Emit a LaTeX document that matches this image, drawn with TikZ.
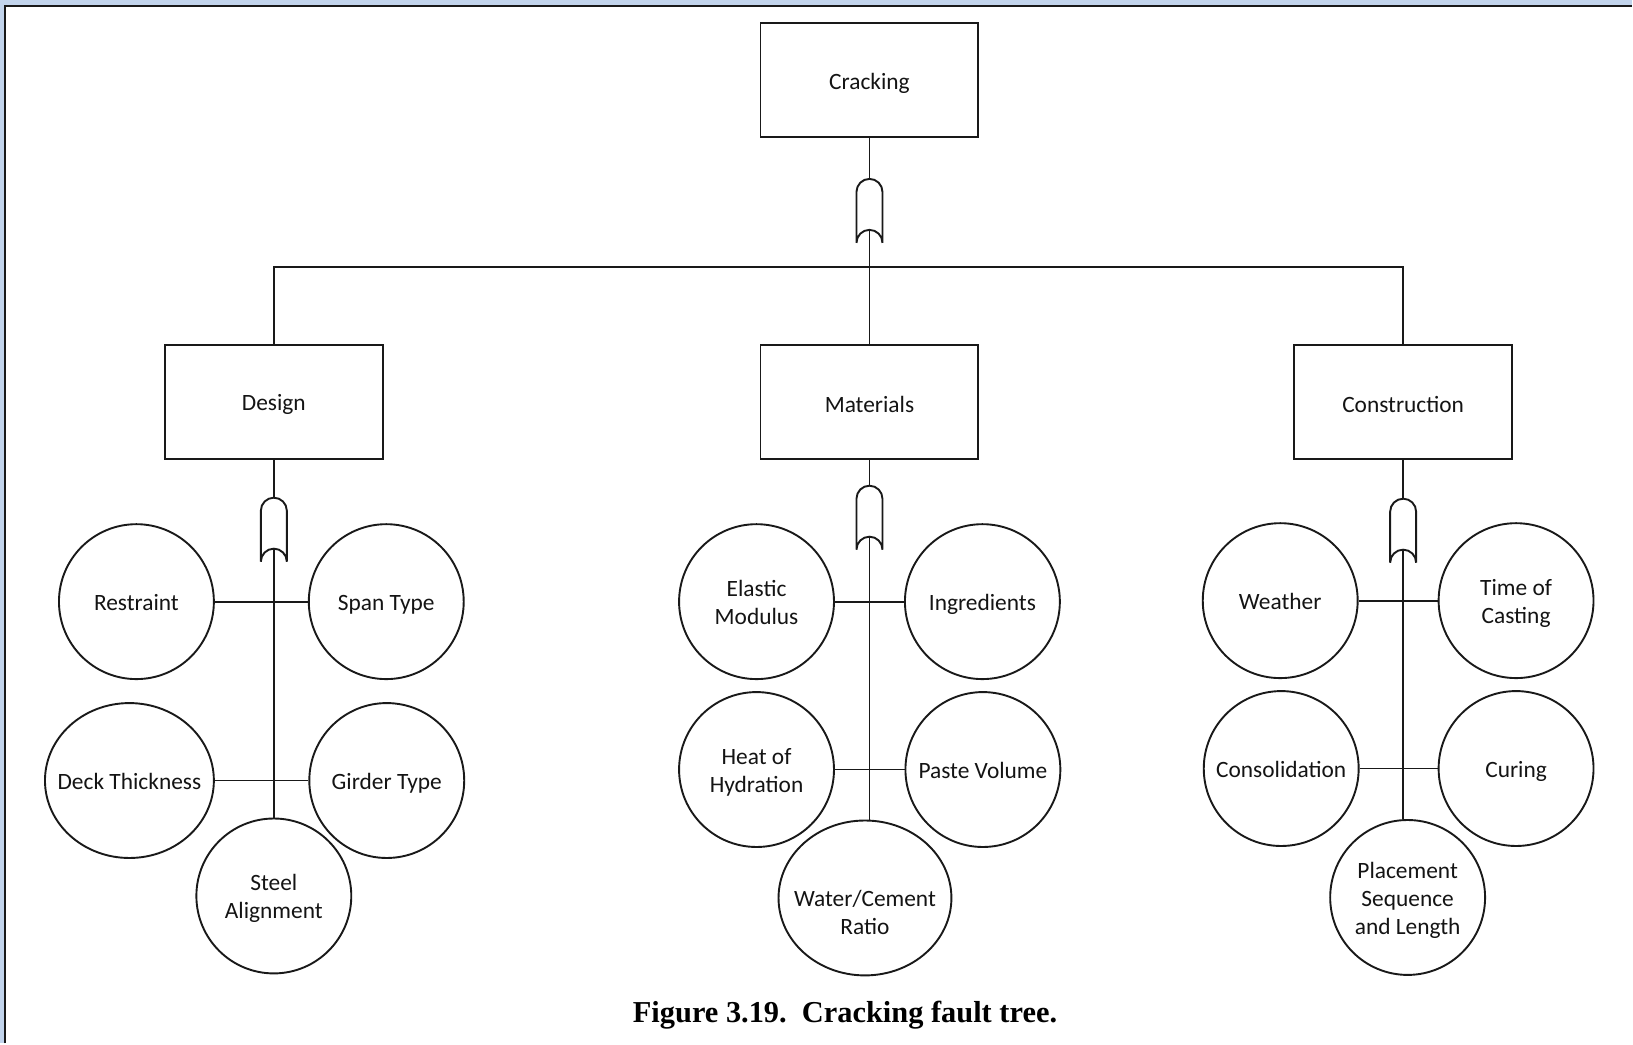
\documentclass[tikz,border=0pt]{standalone}
\usepackage{fontspec}
\setmainfont{Carlito}
\newfontfamily\captionfont{Liberation Serif}
\usetikzlibrary{shapes.geometric}
\definecolor{deskblue}{RGB}{194,212,236}
% text set a little low in its outline, keeping its own extents
\newcommand\sinktext[1]{\raisebox{-1.6pt}[\height][\depth]{#1}}
% centred text of zero width, so that the outline keeps its set size
\newcommand\causetext[1]{\makebox[0pt][c]{\sinktext{\begin{tabular}{@{}c@{}}#1\end{tabular}}}}
\begin{document}
\begin{tikzpicture}[x=0.5pt,y=-0.5pt,
  ln/.style={line width=0.95pt, draw=black!90},
  lbl/.style={font=\fontsize{11.7}{14.1}\selectfont, text=black!92},
  box/.style={ln, rectangle, lbl, minimum width=109pt, minimum height=57pt},
  cause/.style={ln, ellipse, lbl, inner sep=0pt,
                minimum width=77.5pt, minimum height=77.5pt},
  pics/orgate/.style={code={
    \draw[ln, fill=white] (-13,64) -- (-13,13)
       arc[start angle=180, end angle=360, radius=13] -- (13,64)
       arc[start angle=360, end angle=180, radius=13] -- cycle;
    \coordinate (-top) at (0,0);
    \coordinate (-in) at (0,51);
  }}
]
% page with its frame
\fill[deskblue] (0,0) rectangle (1633,1044);
\fill[white] (5,6) rectangle (1633,1044);
\draw[line width=1pt, black!90] (5,1044) -- (5,6) -- (1633,6);

% top event and the three branches
\node[box] (crack) at (870,80) {\sinktext{Cracking}};
\node[box] (design) at (274,402) {\sinktext{Design}};
\node[box] (mat) at (870,402) {\sinktext{Materials}};
\node[box] (cons) at (1404,402) {\sinktext{Construction}};

\pic (g0) at (870,179) {orgate};
\coordinate (bus) at (870,267);
\draw[ln] (crack.south) -- (g0-top);
\draw[ln] (g0-in) -- (mat.north);
\draw[ln] (design.north) |- (bus) -| (cons.north);

% Design causes
\node[cause] (rest) at (136.5,602) {\causetext{Restraint}};
\node[cause] (span) at (386.5,602) {\causetext{Span Type}};
\node[cause, minimum width=84.5pt] (deck) at (129.5,781) {\causetext{Deck Thickness}};
\node[cause] (girder) at (387,781) {\causetext{Girder Type}};
\node[cause] (steel) at (274,896.5) {\causetext{Steel\\Alignment}};
\pic (g1) at (274,498) {orgate};
\draw[ln] (design.south) -- (g1-top);
\draw[ln] (g1-in) -- (steel.north);
\draw[ln] (rest) -- (span);
\draw[ln] (deck) -- (girder);

% Materials causes
\node[cause] (elastic) at (757,602) {\causetext{Elastic\\Modulus}};
\node[cause] (ingr) at (983,602) {\causetext{Ingredients}};
\node[cause] (heat) at (757,770) {\causetext{Heat of\\Hydration}};
\node[cause] (paste) at (983.5,770) {\causetext{Paste Volume}};
\node[cause, minimum width=86.5pt] (wc) at (865.5,898.5) {\causetext{\mbox{}\\Water/Cement\\Ratio}};
\pic (g2) at (870,486) {orgate};
\draw[ln] (mat.south) -- (g2-top);
\draw[ln] (g2-in) -- (g2-in |- wc.north);
\draw[ln] (elastic) -- (ingr);
\draw[ln] (heat) -- (paste);

% Construction causes
\node[cause] (weather) at (1281,601) {\causetext{Weather}};
\node[cause] (time) at (1517,601) {\causetext{Time of\\Casting}};
\node[cause] (consol) at (1282,769) {\causetext{Consolidation}};
\node[cause] (curing) at (1517,769) {\causetext{Curing}};
\node[cause] (place) at (1408.5,898) {\causetext{Placement\\Sequence\\and Length}};
\pic (g3) at (1404,499) {orgate};
\draw[ln] (cons.south) -- (g3-top);
\draw[ln] (g3-in) -- (g3-in |- place.north);
\draw[ln] (weather) -- (time);
\draw[ln] (consol) -- (curing);

% caption
\node[font=\captionfont\bfseries\fontsize{15.2}{18}\selectfont, anchor=base, inner sep=0pt]
  (cap) at (845.5,1023) {Figure 3.19.\ \ Cracking fault tree.};
\end{tikzpicture}
\end{document}
